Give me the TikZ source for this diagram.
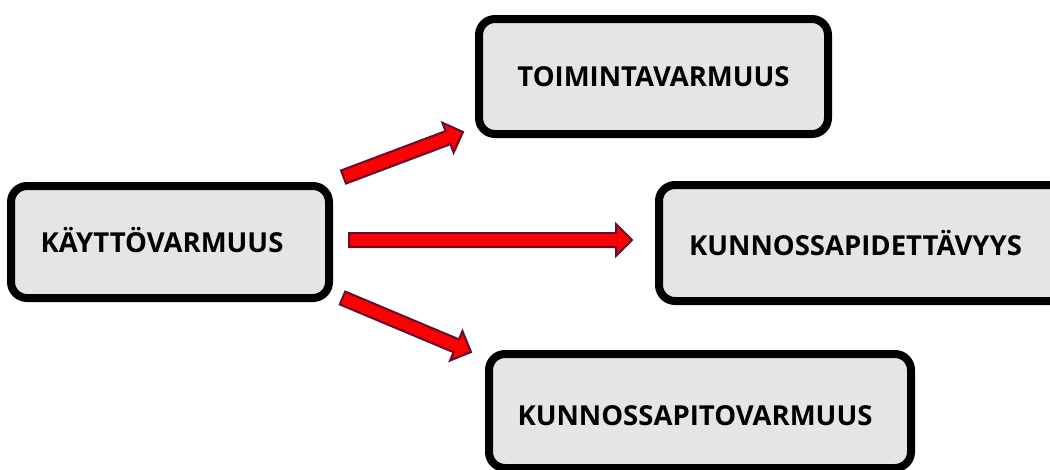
\documentclass[tikz,border=0pt]{standalone}
\usepackage{fontspec}
\setmainfont{Open Sans}
\usetikzlibrary{calc}
\definecolor{boxfill}{RGB}{229,229,229}
\definecolor{arrowborder}{RGB}{99,13,50}
\definecolor{arrowfill}{RGB}{255,0,0}
\tikzset{
  box/.style={draw=black, line width=8pt, fill=boxfill, rounded corners=16pt,
    inner sep=0pt, font=\fontsize{27.5}{32}\selectfont\bfseries},
  blockarrow/.style={draw=arrowborder, fill=arrowfill, line width=2pt, line join=miter},
}
\newcommand\blockarrow[2]{%
  \path ($(#2)!16pt!(#1)$) coordinate (hb);
  \draw[blockarrow] ($(#1)!7pt!-90:(#2)$) -- ($(hb)!7pt!90:(#1)$) -- ($(hb)!16pt!90:(#1)$)
    -- (#2) -- ($(hb)!16pt!-90:(#1)$) -- ($(hb)!7pt!-90:(#1)$) -- ($(#1)!7pt!90:(#2)$) -- cycle;
}
\begin{document}
\begin{tikzpicture}[x=1pt,y=-1pt]
\useasboundingbox (0,0) rectangle (1050,469);
\clip (0,0) rectangle (1050,469);
\node[box, minimum width=318pt, minimum height=112pt] (kay) at (170,242) {\hspace*{-16pt}\raisebox{1.5pt}[\height][\depth]{KÄYTTÖVARMUUS}};
\node[box, minimum width=349pt, minimum height=115pt] (toi) at (653.5,76.5) {TOIMINTAVARMUUS};
\node[box, minimum width=407pt, minimum height=116pt] (kpd) at (862.5,243) {\hspace*{-14pt}KUNNOSSAPIDETTÄVYYS};
\node[box, minimum width=422pt, minimum height=114pt] (kpv) at (700,411) {\hspace*{-10pt}\raisebox{-5pt}[\height][\depth]{KUNNOSSAPITOVARMUUS}};
\coordinate (a1s) at (343.5,177);
\coordinate (a1e) at (463,132);
\coordinate (a2s) at (349,240);
\coordinate (a2e) at (632,240);
\coordinate (a3s) at (342.5,298);
\coordinate (a3e) at (471,352);
\blockarrow{a1s}{a1e}
\blockarrow{a2s}{a2e}
\blockarrow{a3s}{a3e}
\end{tikzpicture}
\end{document}
